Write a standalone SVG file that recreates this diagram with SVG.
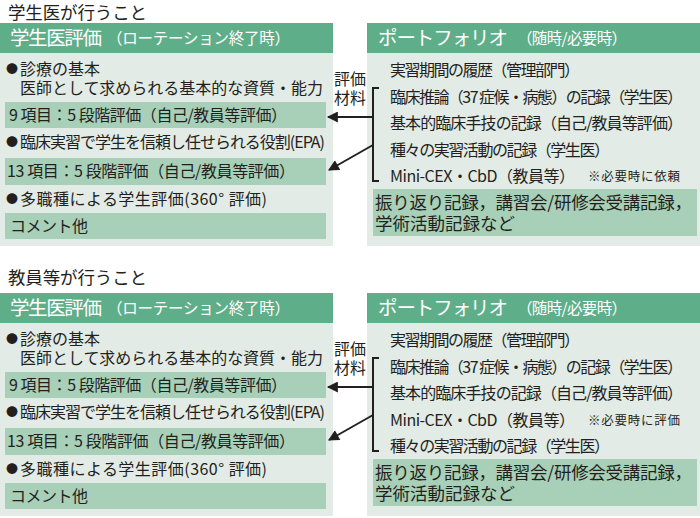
<svg xmlns="http://www.w3.org/2000/svg" width="700" height="518" viewBox="0 0 700 518">
<defs>
<style>
text{font-family:"Noto Sans CJK JP","Noto Sans",sans-serif;fill:#231f20}
.t{font-size:17.5px}
.h{font-size:19.5px;fill:#fff}
.hs{font-size:15.5px;fill:#fff}
.b{font-size:16px}
.r{font-size:16px}
.n{font-size:12.5px}
.g{font-size:17.5px}
.dot{font-size:12px}
.hd{fill:#5fae8a}
.pn{fill:#e2ebe5}
.br{fill:#a8cfb7}
.c{stroke:#231f20;stroke-width:2;fill:none}
</style>
<marker id="ah" viewBox="0 0 10 10" refX="9" refY="5" markerWidth="6" markerHeight="5.5" markerUnits="strokeWidth" orient="auto">
<path d="M0,0 L10,5 L0,10 z" fill="#231f20"/>
</marker>
</defs>
<rect width="700" height="518" fill="#fff"/>

<g id="title1"><text class="t" x="8" y="19" textLength="139">学生医が行うこと</text></g>

<g id="left1">
<rect class="hd" x="0" y="23" width="333" height="30"/>
<rect class="pn" x="0" y="53" width="333" height="193"/>
<text class="h" x="10" y="45" textLength="92">学生医評価</text>
<text class="hs" x="107" y="44" textLength="183">（ローテーション終了時）</text>
<text class="dot" x="6" y="74">●</text>
<text class="b" x="20" y="75" textLength="80">診療の基本</text>
<text class="b" x="20" y="94" textLength="303">医師として求められる基本的な資質・能力</text>
<rect class="br" x="5" y="102" width="321" height="26"/>
<text class="b" x="9" y="121" textLength="278">9 項目：5 段階評価（自己/教員等評価）</text>
<text class="dot" x="6" y="147">●</text>
<text class="b" x="20" y="148" textLength="305">臨床実習で学生を信頼し任せられる役割(EPA)</text>
<rect class="br" x="5" y="158" width="321" height="27"/>
<text class="b" x="7" y="177" textLength="288">13 項目：5 段階評価（自己/教員等評価）</text>
<text class="dot" x="6" y="204">●</text>
<text class="b" x="20" y="205" textLength="247">多職種による学生評価(360° 評価)</text>
<rect class="br" x="5" y="213" width="321" height="26"/>
<text class="b" x="10" y="232" textLength="78">コメント他</text>
</g>

<g id="right1">
<rect class="hd" x="367" y="23" width="333" height="30"/>
<rect class="pn" x="367" y="53" width="333" height="193"/>
<text class="h" x="378" y="45" textLength="130">ポートフォリオ</text>
<text class="hs" x="517" y="44" textLength="110">（随時/必要時）</text>
<text class="r" x="390" y="76" textLength="190">実習期間の履歴（管理部門）</text>
<text class="r" x="390" y="103" textLength="293">臨床推論（37 症候・病態）の記録（学生医）</text>
<text class="r" x="390" y="129" textLength="293">基本的臨床手技の記録（自己/教員等評価）</text>
<text class="r" x="390" y="156" textLength="220">種々の実習活動の記録（学生医）</text>
<text class="r" x="390" y="182" textLength="185">Mini-CEX・CbD（教員等）</text>
<text class="n" x="588" y="181" textLength="92">※必要時に依頼</text>
<rect class="br" x="373" y="189" width="324" height="47"/>
<text class="g" x="375" y="209" textLength="317">振り返り記録，講習会/研修会受講記録，</text>
<text class="g" x="375" y="230" textLength="140">学術活動記録など</text>
</g>

<g id="label1">
<text class="r" x="350" y="85" text-anchor="middle">評価</text>
<text class="r" x="350" y="104" text-anchor="middle">材料</text>
</g>

<g id="title2"><text class="t" x="8" y="284" textLength="139">教員等が行うこと</text></g>

<g id="left2">
<rect class="hd" x="0" y="293" width="333" height="30"/>
<rect class="pn" x="0" y="323" width="333" height="193"/>
<text class="h" x="10" y="315" textLength="92">学生医評価</text>
<text class="hs" x="107" y="314" textLength="183">（ローテーション終了時）</text>
<text class="dot" x="6" y="344">●</text>
<text class="b" x="20" y="345" textLength="80">診療の基本</text>
<text class="b" x="20" y="364" textLength="303">医師として求められる基本的な資質・能力</text>
<rect class="br" x="5" y="372" width="321" height="26"/>
<text class="b" x="9" y="391" textLength="278">9 項目：5 段階評価（自己/教員等評価）</text>
<text class="dot" x="6" y="417">●</text>
<text class="b" x="20" y="418" textLength="305">臨床実習で学生を信頼し任せられる役割(EPA)</text>
<rect class="br" x="5" y="428" width="321" height="27"/>
<text class="b" x="7" y="447" textLength="288">13 項目：5 段階評価（自己/教員等評価）</text>
<text class="dot" x="6" y="474">●</text>
<text class="b" x="20" y="475" textLength="247">多職種による学生評価(360° 評価)</text>
<rect class="br" x="5" y="483" width="321" height="26"/>
<text class="b" x="10" y="502" textLength="78">コメント他</text>
</g>

<g id="right2">
<rect class="hd" x="367" y="293" width="333" height="30"/>
<rect class="pn" x="367" y="323" width="333" height="193"/>
<text class="h" x="378" y="315" textLength="130">ポートフォリオ</text>
<text class="hs" x="517" y="314" textLength="110">（随時/必要時）</text>
<text class="r" x="390" y="346" textLength="190">実習期間の履歴（管理部門）</text>
<text class="r" x="390" y="373" textLength="293">臨床推論（37 症候・病態）の記録（学生医）</text>
<text class="r" x="390" y="399" textLength="293">基本的臨床手技の記録（自己/教員等評価）</text>
<text class="r" x="390" y="426" textLength="185">Mini-CEX・CbD（教員等）</text>
<text class="n" x="588" y="425" textLength="92">※必要時に評価</text>
<text class="r" x="390" y="452" textLength="220">種々の実習活動の記録（学生医）</text>
<rect class="br" x="373" y="459" width="324" height="47"/>
<text class="g" x="375" y="479" textLength="317">振り返り記録，講習会/研修会受講記録，</text>
<text class="g" x="375" y="500" textLength="140">学術活動記録など</text>
</g>

<g id="label2">
<text class="r" x="350" y="355" text-anchor="middle">評価</text>
<text class="r" x="350" y="374" text-anchor="middle">材料</text>
</g>

<g id="connectors">
<path class="c" d="M379,88 H373 V181 H379"/>
<path class="c" d="M373,117 H328" marker-end="url(#ah)"/>
<path class="c" d="M373,145 L329,170" marker-end="url(#ah)"/>
<path class="c" d="M379,358 H373 V451 H379"/>
<path class="c" d="M373,387 H328" marker-end="url(#ah)"/>
<path class="c" d="M373,415 L329,440" marker-end="url(#ah)"/>
</g>
</svg>
